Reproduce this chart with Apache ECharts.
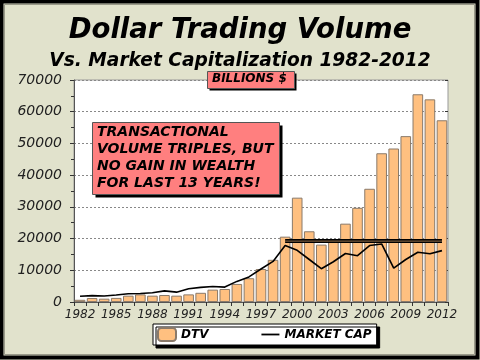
<!DOCTYPE html>
<html>
<head>
<meta charset="utf-8">
<script src="https://cdn.jsdelivr.net/npm/echarts@6/dist/echarts.min.js"></script>
<style>html,body{margin:0;padding:0;background:#e1e2cc;}#c{width:480px;height:360px;}</style>
</head>
<body>
<div id="c"></div>
<script>
var years = ['1982','1983','1984','1985','1986','1987','1988','1989','1990','1991','1992','1993','1994','1995','1996','1997','1998','1999','2000','2001','2002','2003','2004','2005','2006','2007','2008','2009','2010','2011','2012'];
var dtv = [700,1250,1050,1300,2000,2400,2000,2200,2000,2400,2900,3900,4100,5700,7500,10400,13300,20600,32900,22300,18100,19500,24700,29700,35700,46900,48400,52300,65500,63900,57300];
var marketCap = [1800,2000,1900,2200,2600,2700,2900,3500,3100,4200,4600,4900,4700,6500,7900,10400,12800,17800,16300,13400,10500,12700,15300,14600,17800,18300,10700,13400,15700,15200,16200];
var plateau = [null,null,null,null,null,null,null,null,null,null,null,null,null,null,null,null,null,19200,19200,19200,19200,19200,19200,19200,19200,19200,19200,19200,19200,19200,19200];
var yTicks = [0,10000,20000,30000,40000,50000,60000,70000];
var titleText = 'Dollar Trading Volume';
var subtitleText = 'Vs. Market Capitalization 1982-2012';
var noteLines = ['TRANSACTIONAL', 'VOLUME TRIPLES, BUT', 'NO GAIN IN WEALTH', 'FOR LAST 13 YEARS!'];
var unitText = 'BILLIONS $';

var FONT = 'DejaVu Sans';
var chart = echarts.init(document.getElementById('c'), null, {renderer: 'canvas'});
chart.setOption({
  backgroundColor: '#e1e2cc',
  animation: false,
  title: [
    {text: titleText, left: 'center', top: 12, textStyle: {fontFamily: FONT, fontSize: 27.5, fontWeight: 'bold', fontStyle: 'italic', color: '#000'}},
    {text: subtitleText, left: 'center', top: 47, textStyle: {fontFamily: FONT, fontSize: 18.6, fontWeight: 'bold', fontStyle: 'italic', color: '#000'}}
  ],
  grid: {left: 74, right: 32, top: 80, bottom: 58, show: true, backgroundColor: '#fff', borderColor: '#999', borderWidth: 1},
  legend: {
    left: 153, top: 324, itemGap: 53, itemWidth: 18, itemHeight: 13,
    padding: [3, 5, 3, 4],
    backgroundColor: '#fff', borderColor: '#000', borderWidth: 1,
    shadowColor: '#000', shadowOffsetX: 3, shadowOffsetY: 3, shadowBlur: 0,
    data: [{name: 'DTV'}, {name: 'MARKET CAP', icon: 'path://M0,0L20,0L20,2L0,2Z'}],
    textStyle: {fontFamily: FONT, fontSize: 12, fontWeight: 'bold', fontStyle: 'italic', color: '#000'}
  },
  xAxis: {
    type: 'category', data: years, boundaryGap: true,
    axisLine: {lineStyle: {color: '#555', width: 1}},
    axisTick: {show: true, interval: 0, length: 4, lineStyle: {color: '#333'}},
    axisLabel: {interval: 2, margin: 7, fontFamily: FONT, fontSize: 12, fontStyle: 'italic', color: '#222'}
  },
  yAxis: [{
    type: 'value', min: 0, max: 70000, interval: 10000,
    axisLine: {show: true, lineStyle: {color: '#555'}},
    axisTick: {show: true, length: 4, lineStyle: {color: '#333'}},
    minorTick: {show: true, splitNumber: 2, length: 3, lineStyle: {color: '#333'}},
    splitLine: {show: true, lineStyle: {color: '#888', type: [2, 2], width: 1}},
    axisLabel: {margin: 12, fontFamily: FONT, fontSize: 14, fontStyle: 'italic', color: '#222',
      formatter: function (v) { return yTicks.indexOf(v) >= 0 ? String(v) : ''; }}
  }, {
    type: 'value', min: 0, max: 70000, interval: 10000, position: 'right',
    axisLine: {show: false}, axisTick: {show: true, inside: true, length: 3, lineStyle: {color: '#333'}},
    axisLabel: {show: false}, splitLine: {show: false}
  }],
  series: [
    {name: 'DTV', type: 'bar', data: dtv, barCategoryGap: '12%',
      itemStyle: {color: '#ffc080', borderColor: '#8a7a6a', borderWidth: 1}},
    {name: 'MARKET CAP', type: 'line', data: marketCap, showSymbol: false, symbol: 'none',
      lineStyle: {color: '#000', width: 1.6}, itemStyle: {color: '#000'}, z: 5},
    {name: 'plateau', type: 'line', data: plateau, showSymbol: false, symbol: 'none',
      lineStyle: {color: '#000', width: 4}, z: 6, silent: true},
    {name: 'plateauInner', type: 'line', data: plateau, showSymbol: false, symbol: 'none',
      lineStyle: {color: 'rgba(140,105,70,0.85)', width: 1.4}, z: 7, silent: true}
  ],
  graphic: [
    {type: 'rect', z: -100, silent: true, shape: {x: 1.5, y: 1.5, width: 476, height: 356}, style: {fill: 'none', stroke: '#000', lineWidth: 4}},
    {type: 'rect', z: -99, silent: true, shape: {x: 4.5, y: 4.5, width: 470, height: 350}, style: {fill: 'none', stroke: '#9a9a8a', lineWidth: 1}},
    {type: 'rect', z: 100, shape: {x: 95.5, y: 125.5, width: 187, height: 72}, style: {fill: '#000'}},
    {type: 'rect', z: 101, shape: {x: 92.5, y: 122.5, width: 187, height: 72}, style: {fill: '#ff7f7f', stroke: '#555', lineWidth: 1}},
    {type: 'text', z: 102, left: 97, top: 124, style: {text: noteLines.join('\n'), font: 'italic bold 14px "DejaVu Sans"', lineHeight: 17, fill: '#000'}},
    {type: 'rect', z: 100, shape: {x: 209.5, y: 73.5, width: 87, height: 17}, style: {fill: '#000'}},
    {type: 'rect', z: 101, shape: {x: 207.5, y: 71.5, width: 87, height: 17}, style: {fill: '#ff7f7f', stroke: '#555', lineWidth: 1}},
    {type: 'text', z: 102, left: 212, top: 73, style: {text: unitText, font: 'italic bold 12px "DejaVu Sans"', fill: '#000'}}
  ]
});
</script>
</body>
</html>
